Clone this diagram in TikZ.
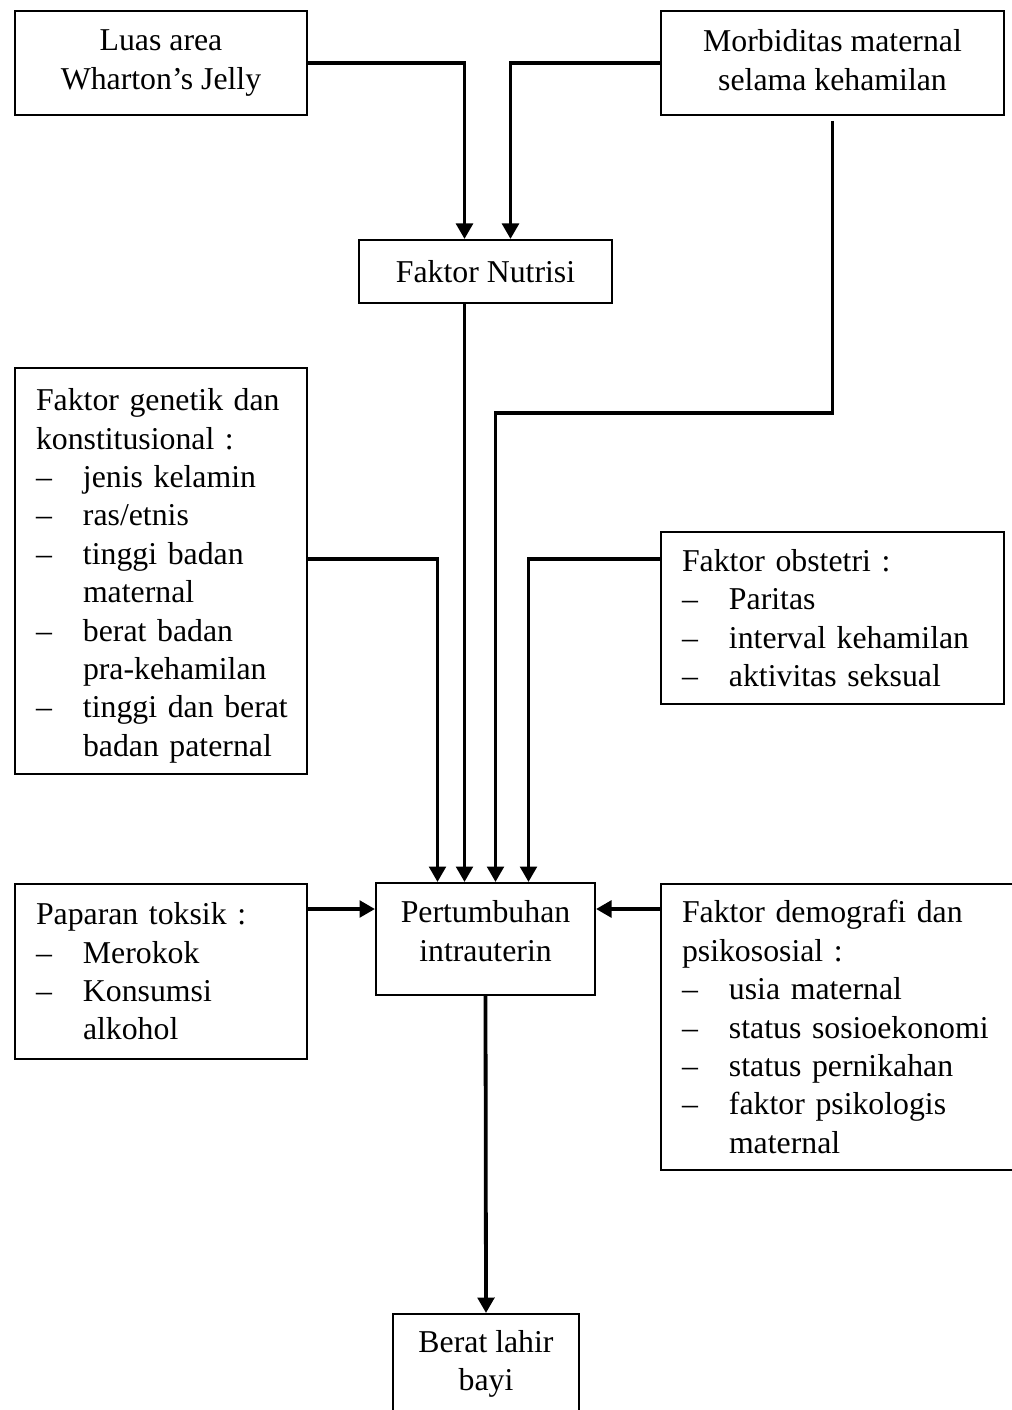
\documentclass[tikz,border=0pt]{standalone}
\usepackage{fontspec}
\setmainfont{Liberation Serif}
\usetikzlibrary{arrows.meta,positioning,calc}
\newlength\px
\setlength\px{0.387pt}
\newcommand\itemdash{\makebox[47\px][l]{--}}
\newcommand\itemgap{\hspace*{47\px}}

\begin{document}
\begin{tikzpicture}[
  x=1\px, y=-1\px,
  every node/.style={draw, line width=2\px, inner sep=0pt, font=\fontsize{12.3}{14.85}\selectfont},
  box/.style={align=center, anchor=north west},
  listbox/.style={align=left, anchor=north west, inner xsep=21\px},
  link/.style={line width=3.8\px},
  arr/.style={link, -{Triangle[width=6.4pt, length=6pt]}}
]
\useasboundingbox (0,0) rectangle (1011,1410);

% top row
\node[box, minimum width=292\px, minimum height=104\px] (luas) at (14,10)
  {Luas area\\Wharton's Jelly};
\node[box, minimum width=343\px, minimum height=104\px] (morb) at (660,10)
  {Morbiditas maternal\\selama kehamilan\rule[-2.3pt]{0pt}{2.3pt}};
\node[box, minimum width=253\px, minimum height=63\px] (nutr) at (358,239)
  {Faktor Nutrisi};

% side factors
\node[listbox, text width=250\px, minimum height=406\px] (gen) at (14,367)
  {\rule{0pt}{12.3pt}Faktor genetik dan\\konstitusional :\\
   \itemdash jenis kelamin\\\itemdash ras/etnis\\
   \itemdash tinggi badan\\\itemgap maternal\\
   \itemdash berat badan\\\itemgap pra-kehamilan\\
   \itemdash\mbox{tinggi dan berat}\\\itemgap badan paternal};
\node[listbox, text width=301\px, minimum height=172\px] (obst) at (660,531)
  {Faktor obstetri :\\\itemdash Paritas\\
   \itemdash interval kehamilan\\\itemdash aktivitas seksual};

% middle row
\node[box, minimum width=219\px, minimum height=112\px] (pert) at (375,882)
  {Pertumbuhan\\intrauterin\\[-22\px]\mbox{}};
\node[listbox, text width=250\px, minimum height=175\px] (tox) at (14,883)
  {Paparan toksik :\\\itemdash Merokok\\\itemdash Konsumsi\\\itemgap alkohol};
\node[listbox, text width=318\px, minimum height=286\px] (demo) at (660,883)
  {Faktor demografi dan\\psikososial :\\
   \itemdash usia maternal\\\itemdash status sosioekonomi\\
   \itemdash status pernikahan\\\itemdash faktor psikologis\\
   \itemgap maternal};

% outcome (runs past the page bottom)
\node[box, minimum width=186\px, minimum height=100\px] (berat) at (392,1313)
  {Berat lahir\\bayi};

% connectors into Faktor Nutrisi
\draw[arr] (luas.east) -| ([xshift=-21\px]nutr.north);
\draw[arr] (morb.west) -| ([xshift=25\px]nutr.north);

% connectors into Pertumbuhan intrauterin
\coordinate (morbdrop) at ([yshift=-5\px]morb.south);
\coordinate (morbbend) at (morbdrop |- 0,413);
\draw[arr] (morbdrop) -- (morbbend) -| ([xshift=10\px]pert.north);
\draw[arr] ([xshift=-21\px]nutr.south) -- ([xshift=-21\px]pert.north);
\draw[arr] ([yshift=12\px]gen.east) -| ([xshift=-48\px]pert.north);
\draw[arr] ([yshift=59\px]obst.west) -| ([xshift=43\px]pert.north);
\draw[arr] (tox.east |- 0,909) -- (pert.west |- 0,909);
\draw[arr] (demo.west |- 0,909) -- (pert.east |- 0,909);

% outcome
\draw[arr] (pert.south) -- (berat.north);
\end{tikzpicture}
\end{document}
